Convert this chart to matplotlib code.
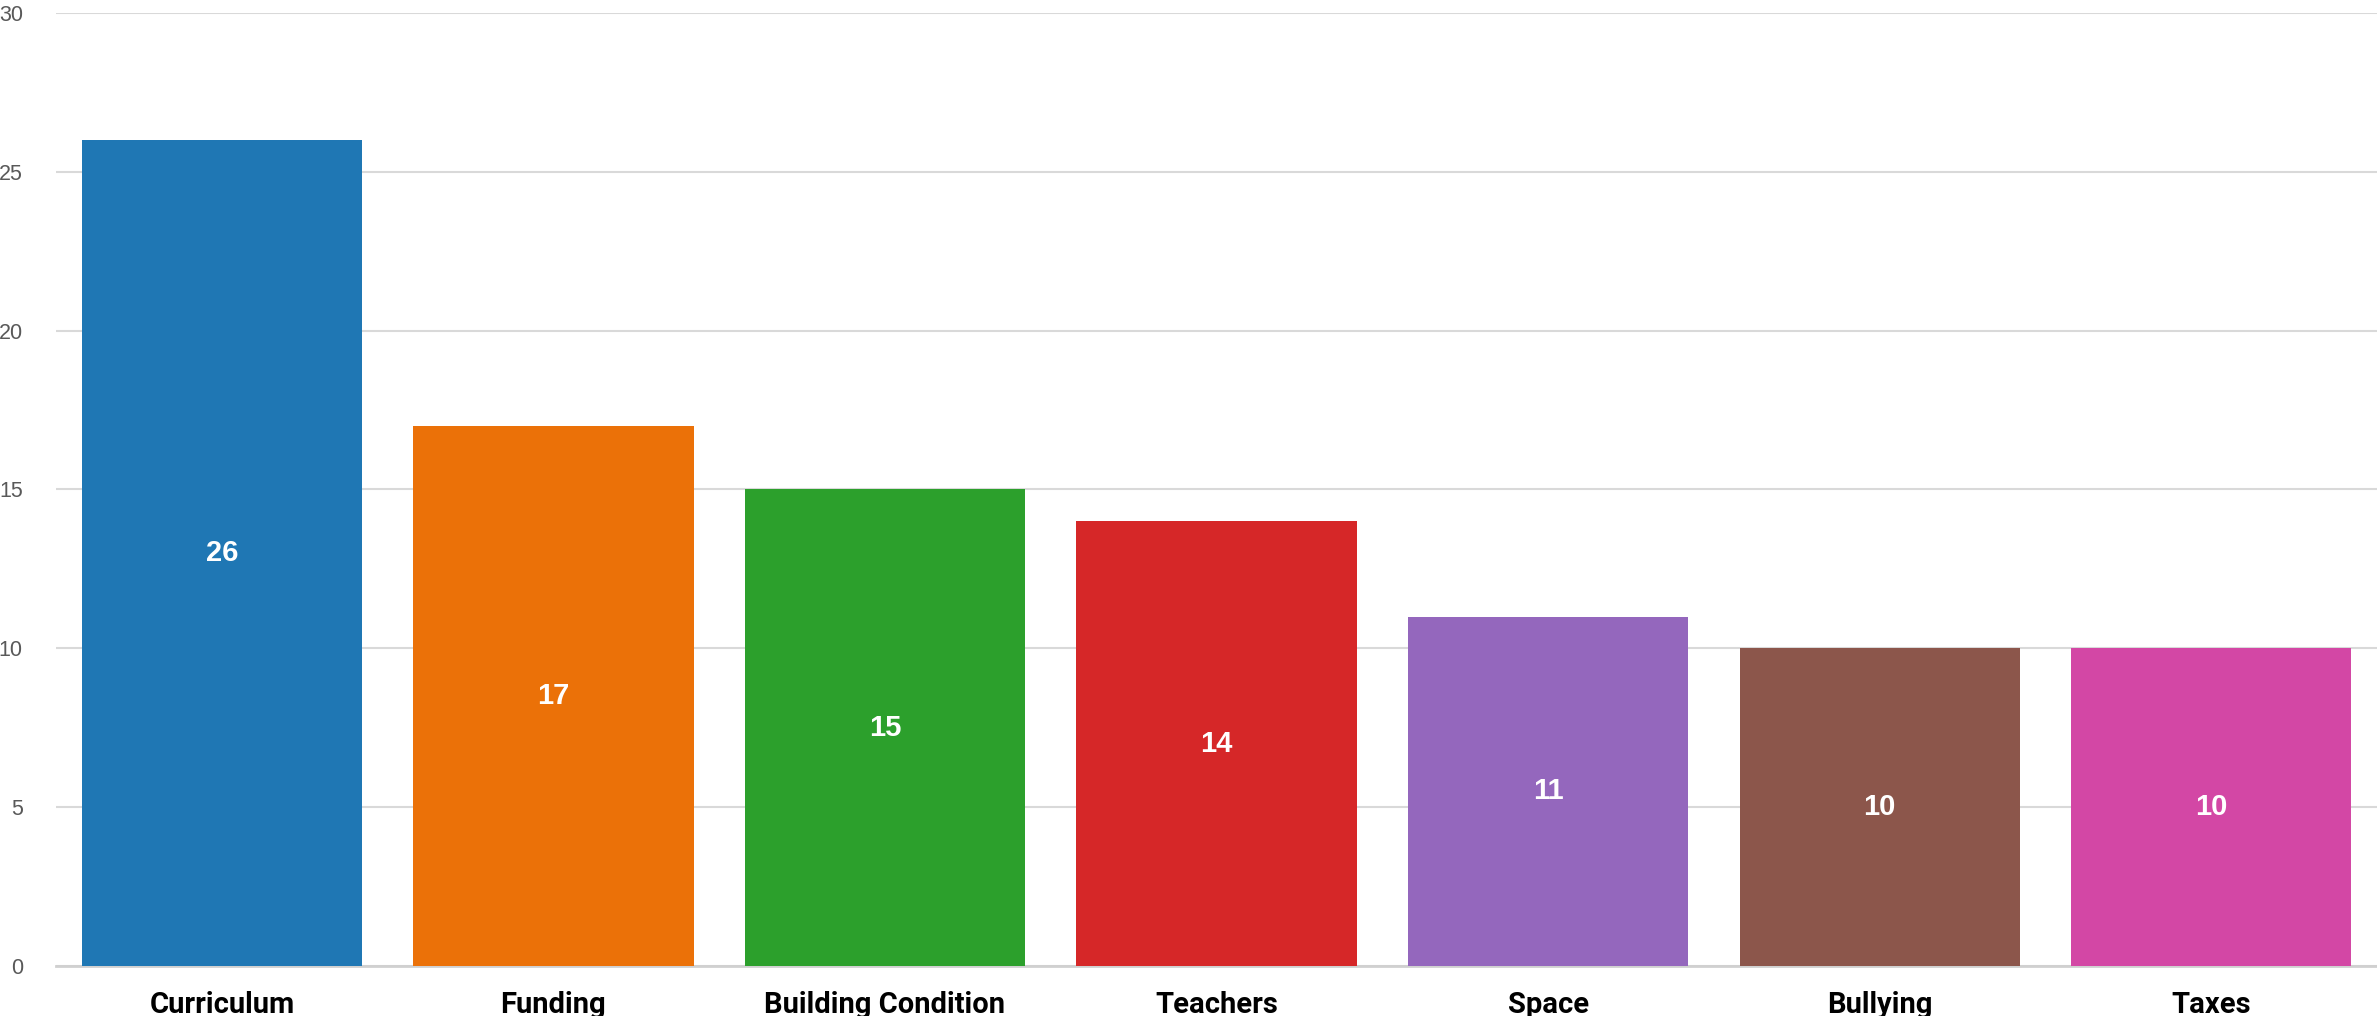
import matplotlib.pyplot as plt
import numpy as np

categorias = ["Curriculum", "Funding", "Building Condition", "Teachers", "Space", "Bullying", "Taxes"]
valores = [26, 17, 15, 14, 11, 10, 10]
colores = ["#1f77b4", "#eb7108", "#2ca02c", "#d62728", "#9467bd", "#8c564b", "#d347a5"]
y_ticks = [0, 5, 10, 15, 20, 25, 30]


def main():
    fig = plt.figure(figsize=(23.77, 10.16), dpi=100)
    ax = fig.add_axes([0.0236, 0.049, 0.9764, 0.9385])

    x = np.arange(len(categorias))
    barras = ax.bar(x, valores, width=0.845, color=colores, zorder=3)

    # etiquetas dentro de las barras
    for b, v in zip(barras, valores):
        ax.text(b.get_x() + b.get_width() / 2, v / 2, str(v), ha="center", va="center",
                color="white", fontsize=21, fontweight="bold", family="Liberation Sans", zorder=4)

    ax.set_xlim(-0.5, 6.5)
    ax.set_ylim(0, 30)
    ax.set_yticks(y_ticks)
    ax.set_xticks(x)
    ax.set_xticklabels(categorias, fontsize=21, fontweight="bold", family="Roboto", color="black")
    ax.tick_params(axis="x", length=0, pad=18)
    ax.tick_params(axis="y", length=0, pad=24, labelsize=15.5, labelcolor="#595959")
    for lab in ax.get_yticklabels():
        lab.set_family("Liberation Sans")

    ax.grid(axis="y", color="#d9d9d9", linewidth=1.5, zorder=0)
    for s in ["top", "right", "left"]:
        ax.spines[s].set_visible(False)
    ax.spines["bottom"].set_color("#d0d0d0")
    ax.spines["bottom"].set_linewidth(2)

    fig.savefig("out.png", dpi=100)


if __name__ == "__main__":
    main()
